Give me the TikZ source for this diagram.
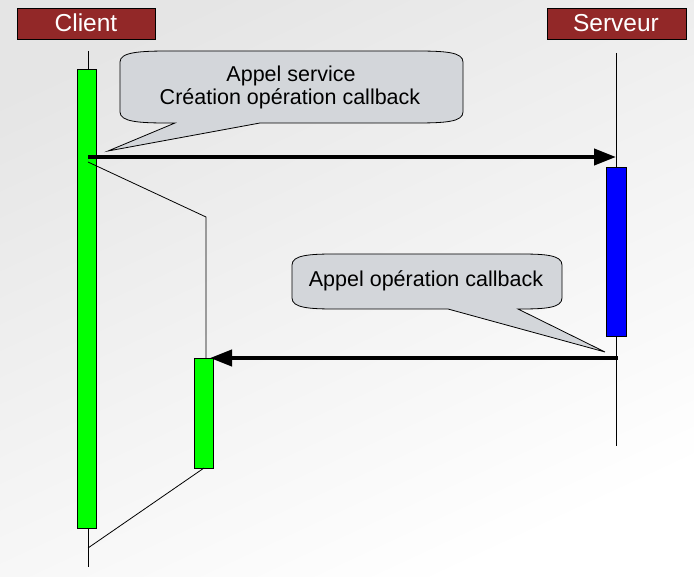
\documentclass[tikz,border=0pt]{standalone}
\usepackage{fontspec}
\setmainfont{Liberation Sans}
\usetikzlibrary{arrows.meta}
\definecolor{hdrred}{RGB}{146,40,40}
\definecolor{callgray}{RGB}{211,214,218}
\definecolor{actgreen}{RGB}{0,255,0}
\definecolor{actblue}{RGB}{0,0,255}
\tikzset{
  header/.style={draw=black, line width=0.8pt, fill=hdrred},
  headertext/.style={text=white, font=\fontsize{24.5}{28}\selectfont, anchor=base, inner sep=0pt},
  calltext/.style={text=black, font=\fontsize{21.5}{24}\selectfont, anchor=base, inner sep=0pt},
  callout/.style={draw=black, line width=0.8pt, fill=callgray},
  lifeline/.style={draw=black, line width=0.9pt},
  actbox/.style={draw=black, line width=0.9pt, rectangle, inner sep=0pt},
  msg/.style={draw=black, line width=4pt, -{Triangle[length=22pt,width=16pt]}},
  thin/.style={draw=black, line width=0.8pt}
}
\begin{document}
\begin{tikzpicture}[x=1pt,y=-1pt]
\useasboundingbox (0,0) rectangle (694,577);
\shade[top color=black!10, bottom color=white, shading angle=25] (0,0) rectangle (694,577);

% headers
\draw[header] (17,8) rectangle (155,39);
\node[headertext] (hclient) at (86,32) {Client};
\draw[header] (547,8) rectangle (686,39);
\node[headertext] (hserveur) at (616,32) {Serveur};

% lifelines
\coordinate (cltop) at (88,51);
\coordinate (clbot) at (88,567);
\coordinate (svtop) at (616,53);
\coordinate (svbot) at (616,446);
\draw[lifeline] (cltop) -- (clbot);
\draw[lifeline] (svtop) -- (svbot);

% activation bars
\node[actbox, fill=actgreen, minimum width=19pt, minimum height=459pt] (clbar) at (86.5,298.5) {};
\node[actbox, fill=actblue, minimum width=20pt, minimum height=169pt] (svbar) at (616,251.5) {};

% callback lifeline
\coordinate (cb1) at (88,162);
\coordinate (cb2) at (206,217);
\coordinate (cb3) at (206,358);
\coordinate (cb4) at (204,468);
\coordinate (cb5) at (88,548);
\draw[thin] (cb1) -- (cb2) -- (cb3);
\node[actbox, fill=actgreen, minimum width=19pt, minimum height=110pt] (cbbar) at (203.5,413) {};
\draw[thin] (cb4) -- (cb5);

% messages
\coordinate (m1s) at (88,157);
\coordinate (m1e) at (616,157);
\draw[msg] (m1s) -- (m1e);
\coordinate (m2s) at (618,358);
\coordinate (m2e) at (210,358);
\draw[msg] (m2s) -- (m2e);

% callout 1
\draw[callout] (120,62) .. controls (120,52) and (140,51) .. (170,51) -- (415,51)
  .. controls (445,51) and (463,52) .. (463,62) -- (463,112)
  .. controls (463,122) and (445,123) .. (415,123) -- (260,123) -- (108,151) -- (175,123) -- (168,123)
  .. controls (140,123) and (120,122) .. (120,112) -- cycle;
\node[calltext] (t1a) at (291,82) {Appel service};
\node[calltext] (t1b) at (290,105) {Création opération callback};

% callout 2
\draw[callout] (292,265) .. controls (292,255) and (310,254) .. (335,254) -- (520,254)
  .. controls (545,254) and (562,255) .. (562,265) -- (562,298)
  .. controls (562,308) and (545,309) .. (520,309) -- (518,309) -- (605,352) -- (448,309) -- (335,309)
  .. controls (310,309) and (292,308) .. (292,298) -- cycle;
\node[calltext] (t2) at (426,287) {Appel opération callback};
\end{tikzpicture}
\end{document}
